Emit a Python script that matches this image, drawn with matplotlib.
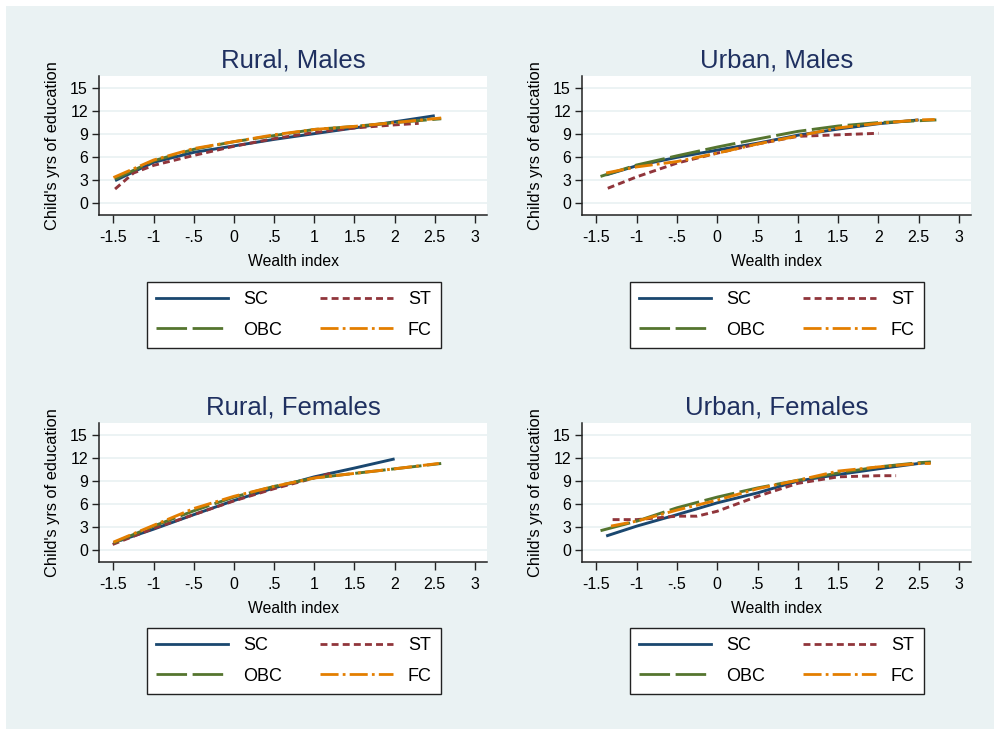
import matplotlib
matplotlib.use("Agg")
import matplotlib.pyplot as plt
from matplotlib.patches import Rectangle
from matplotlib.lines import Line2D

plt.rcParams['font.family'] = ['Liberation Sans', 'DejaVu Sans']
plt.rcParams['lines.scale_dashes'] = False

# fitted curves: wealth index (x) vs child's years of education (y)
# Rural, Males
rm_sc_x = [-1.48, -1.0, -0.5, 0.0, 0.5, 1.0, 1.5, 2.0, 2.5]
rm_sc_y = [2.9, 5.3, 6.6, 7.45, 8.3, 9.05, 9.8, 10.6, 11.4]
rm_st_x = [-1.48, -1.25, -1.0, -0.5, 0.0, 0.5, 1.0, 1.5, 2.0, 2.3]
rm_st_y = [1.8, 3.9, 4.9, 6.2, 7.4, 8.4, 9.2, 9.8, 10.2, 10.4]
rm_obc_x = [-1.48, -1.0, -0.5, 0.0, 0.5, 1.0, 1.5, 2.0, 2.58]
rm_obc_y = [3.1, 5.5, 7.0, 8.0, 8.8, 9.6, 10.0, 10.5, 11.0]
rm_fc_x = [-1.5, -1.0, -0.5, 0.0, 0.5, 1.0, 1.5, 2.0, 2.58]
rm_fc_y = [3.3, 5.6, 7.1, 8.0, 8.9, 9.6, 10.0, 10.5, 11.1]

# Urban, Males
um_sc_x = [-1.38, -1.0, -0.5, 0.0, 0.5, 1.0, 1.5, 2.0, 2.5]
um_sc_y = [3.65, 4.85, 5.95, 6.9, 7.8, 8.85, 9.65, 10.35, 10.85]
um_st_x = [-1.36, -1.0, -0.5, 0.0, 0.5, 1.0, 1.5, 2.0]
um_st_y = [1.9, 3.4, 5.2, 6.5, 7.7, 8.7, 8.9, 9.1]
um_obc_x = [-1.45, -1.0, -0.5, 0.0, 0.5, 1.0, 1.5, 2.0, 2.72]
um_obc_y = [3.45, 4.95, 6.15, 7.3, 8.35, 9.35, 10.05, 10.5, 10.85]
um_fc_x = [-1.38, -1.0, -0.5, 0.0, 0.5, 1.0, 1.5, 2.0, 2.5, 2.7]
um_fc_y = [3.9, 4.7, 5.4, 6.5, 7.7, 8.75, 9.8, 10.4, 10.85, 10.9]

# Rural, Females
rf_sc_x = [-1.42, -1.0, -0.5, 0.0, 0.5, 1.0, 1.5, 2.0]
rf_sc_y = [1.2, 2.7, 4.6, 6.45, 8.1, 9.55, 10.7, 11.9]
rf_st_x = [-1.51, -1.0, -0.5, 0.0, 0.5, 1.0, 1.2]
rf_st_y = [0.7, 2.8, 4.6, 6.4, 8.0, 9.4, 10.0]
rf_obc_x = [-1.5, -1.0, -0.5, 0.0, 0.5, 1.0, 1.5, 2.0, 2.58]
rf_obc_y = [0.9, 3.1, 5.1, 6.9, 8.3, 9.4, 10.0, 10.6, 11.3]
rf_fc_x = [-1.5, -1.0, -0.5, 0.0, 0.5, 1.0, 1.5, 2.0, 2.55]
rf_fc_y = [1.0, 3.2, 5.4, 7.0, 8.3, 9.4, 10.0, 10.6, 11.3]

# Urban, Females
uf_sc_x = [-1.38, -1.0, -0.5, 0.0, 0.5, 1.0, 1.5, 2.0, 2.5, 2.65]
uf_sc_y = [1.8, 3.1, 4.6, 6.15, 7.45, 9.0, 9.85, 10.6, 11.3, 11.45]
uf_st_x = [-1.3, -1.0, -0.5, -0.25, 0.0, 0.5, 1.0, 1.5, 2.0, 2.22]
uf_st_y = [3.95, 3.95, 4.4, 4.4, 5.05, 7.0, 8.7, 9.55, 9.7, 9.7]
uf_obc_x = [-1.45, -1.0, -0.5, 0.0, 0.5, 1.0, 1.5, 2.0, 2.5, 2.65]
uf_obc_y = [2.5, 3.75, 5.5, 6.9, 8.1, 9.1, 10.05, 10.85, 11.4, 11.5]
uf_fc_x = [-1.32, -1.0, -0.5, 0.0, 0.5, 1.0, 1.5, 2.0, 2.5, 2.65]
uf_fc_y = [3.1, 3.75, 5.2, 6.5, 8.0, 9.1, 10.3, 10.85, 11.3, 11.3]

titles = ["Rural, Males", "Urban, Males", "Rural, Females", "Urban, Females"]
groups = ["SC", "ST", "OBC", "FC"]
x_ticks = [-1.5, -1, -0.5, 0, 0.5, 1, 1.5, 2, 2.5, 3]
x_tick_labels = ["-1.5", "-1", "-.5", "0", ".5", "1", "1.5", "2", "2.5", "3"]
y_ticks = [0, 3, 6, 9, 12, 15]

panels = [
    [(rm_sc_x, rm_sc_y), (rm_st_x, rm_st_y), (rm_obc_x, rm_obc_y), (rm_fc_x, rm_fc_y)],
    [(um_sc_x, um_sc_y), (um_st_x, um_st_y), (um_obc_x, um_obc_y), (um_fc_x, um_fc_y)],
    [(rf_sc_x, rf_sc_y), (rf_st_x, rf_st_y), (rf_obc_x, rf_obc_y), (rf_fc_x, rf_fc_y)],
    [(uf_sc_x, uf_sc_y), (uf_st_x, uf_st_y), (uf_obc_x, uf_obc_y), (uf_fc_x, uf_fc_y)],
]

colors = ['#1a476f', '#90353b', '#55752f', '#e37e00']
dashes = [None, (5, 3), (22, 4), (13, 3, 2, 3)]
bg = '#eaf2f3'

W, H = 995, 729
fig = plt.figure(figsize=(W / 100, H / 100), dpi=100, facecolor='white')
fig.patches.append(Rectangle((6 / W, 0), 1 - 6 / W, 1 - 6 / H, transform=fig.transFigure,
                             facecolor=bg, edgecolor='none', zorder=-5))

# pixel boxes: left, top, right, bottom
boxes = [(99, 76, 487, 215), (582, 76, 971, 215), (99, 423, 487, 562), (582, 423, 971, 562)]
legend_pos = [(147, 282), (630, 282), (147, 628), (630, 628)]

for i, (l, t, r, b) in enumerate(boxes):
    ax = fig.add_axes([l / W, 1 - b / H, (r - l) / W, (b - t) / H])
    ax.set_facecolor('white')
    handles = []
    for k, (xs, ys) in enumerate(panels[i]):
        line, = ax.plot(xs, ys, color=colors[k], lw=2.1, solid_capstyle='butt',
                        dash_capstyle='butt')
        h = Line2D([], [], color=colors[k], lw=2)
        if dashes[k] is not None:
            line.set_dashes(dashes[k])
            h.set_dashes(dashes[k])
        handles.append(h)

    ax.set_xlim(-1.68, 3.15)
    ax.set_ylim(-1.6, 16.6)
    ax.set_xticks(x_ticks)
    ax.set_xticklabels(x_tick_labels)
    ax.set_yticks(y_ticks)
    ax.grid(axis='y', color=bg, lw=1.3)
    ax.set_axisbelow(True)
    for s in ['top', 'right']:
        ax.spines[s].set_visible(False)
    for s in ['left', 'bottom']:
        ax.spines[s].set_color('#222222')
        ax.spines[s].set_linewidth(1.1)
    ax.tick_params(axis='x', direction='out', length=6, width=1, pad=4.5, labelsize=11.5,
                   color='#222222')
    ax.tick_params(axis='y', direction='out', length=5, width=1, pad=3, labelsize=11.5,
                   color='#222222')
    ax.set_title(titles[i], fontsize=18.5, color='#1f3060', pad=6)
    ax.set_xlabel("Wealth index", fontsize=11.3, labelpad=7)
    ax.set_ylabel("Child's yrs of education", fontsize=11.8, labelpad=7)

    # rows read SC / ST then OBC / FC
    order = [0, 2, 1, 3]
    lx, ly = legend_pos[i]
    leg = fig.legend([handles[j] for j in order], [groups[j] for j in order],
                     loc='upper left', bbox_to_anchor=(lx / W, 1 - ly / H),
                     ncol=2, fontsize=13, frameon=True, fancybox=False,
                     handlelength=4, handletextpad=0.85, columnspacing=2.1,
                     borderpad=0.5, labelspacing=0.75, borderaxespad=0)
    frame = leg.get_frame()
    frame.set_edgecolor('#222222')
    frame.set_linewidth(1)
    frame.set_facecolor('white')
    frame.set_alpha(1)

fig.savefig("out.png", dpi=100, facecolor=fig.get_facecolor())
